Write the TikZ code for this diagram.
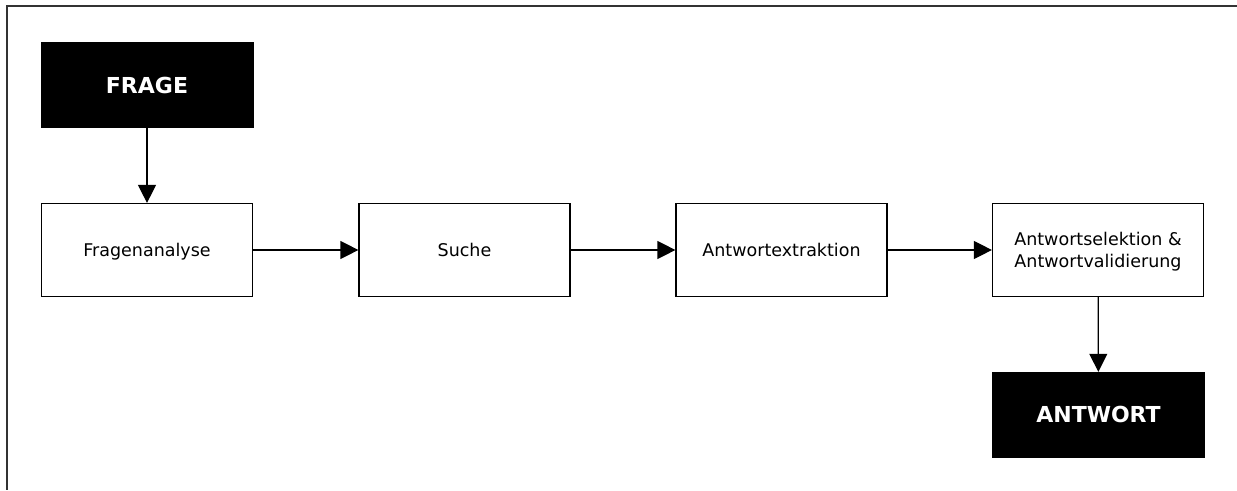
\documentclass[tikz,border=0pt]{standalone}
\usepackage{fontspec}
\setmainfont{DejaVu Sans}
\usetikzlibrary{arrows.meta}
\begin{document}
\begin{tikzpicture}[x=1pt,y=-1pt,
  box/.style={draw=black, line width=1.2pt, fill=white, minimum width=211pt, minimum height=93pt,
    inner sep=0pt, align=center, font=\fontsize{17.5}{22}\selectfont, text height=12.8pt, text depth=0pt},
  dark/.style={draw=black, fill=black, text=white, minimum width=212pt, minimum height=85pt,
    inner sep=0pt, font=\fontsize{22}{26}\selectfont\bfseries, text height=16pt, text depth=0pt},
  arr/.style={line width=1.2pt, -{Triangle[length=18pt,width=18pt]}}]
\useasboundingbox (0,0) rectangle (1237,490);
\draw[line width=1.6pt, black!80] (1237,6) -- (7,6) -- (7,490);
\node[dark] (frage) at (147,85) {FRAGE};
\node[box] (fa) at (147,250) {Fragenanalyse};
\node[box] (su) at (464.5,250) {Suche};
\node[box] (ae) at (781.5,250) {Antwortextraktion};
\node[box, text height=34.8pt] (as) at (1098,250) {Antwortselektion \&\\Antwortvalidierung};
\node[dark] (antwort) at (1098.5,414.5) {ANTWORT};
\draw[arr] (frage) -- (fa);
\draw[arr] (fa) -- (su);
\draw[arr] (su) -- (ae);
\draw[arr] (ae) -- (as);
\draw[arr] (as) -- (antwort);
\end{tikzpicture}
\end{document}
